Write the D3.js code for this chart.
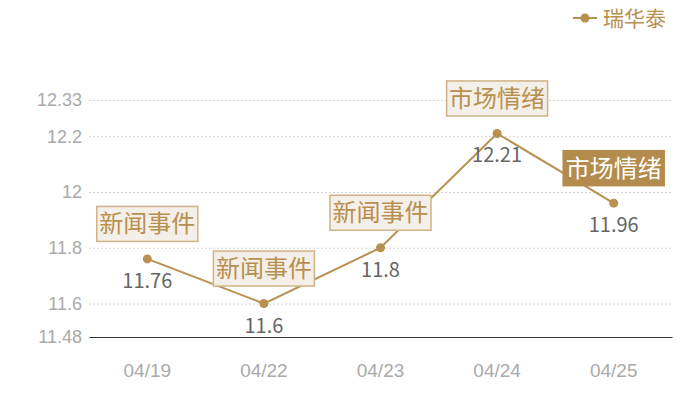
<!DOCTYPE html>
<html><head><meta charset="utf-8">
<script src="https://cdn.jsdelivr.net/npm/d3@7"></script>
<style>body{margin:0;background:#fff}svg{display:block;font-family:"Noto Sans CJK SC","Noto Sans",sans-serif}</style>
</head><body><div id="c"></div>
<script>
const categories = ["04/19","04/22","04/23","04/24","04/25"];
const values = [11.76, 11.6, 11.8, 12.21, 11.96];
const annotations = ["新闻事件","新闻事件","新闻事件","市场情绪","市场情绪"];
const highlighted = [false,false,false,false,true];
const yTicks = [11.48, 11.6, 11.8, 12, 12.2, 12.33];
const seriesName = "瑞华泰";

const W=700,H=400, m={l:89,r:28,t:100,b:63};
const gold="#b8904f";
const svg=d3.select("#c").append("svg").attr("width",W).attr("height",H);
const x=d3.scaleBand().domain(categories).range([m.l,W-m.r]);
const y=d3.scaleLinear().domain([11.48,12.33]).range([H-m.b,m.t]);

// grid
const ya=svg.append("g").attr("transform",`translate(${m.l},0)`)
  .call(d3.axisLeft(y).tickValues(yTicks).tickSize(-(W-m.l-m.r)).tickFormat(d=>String(d)));
ya.select(".domain").remove();
ya.selectAll(".tick line").attr("stroke","#d6d6d6").attr("stroke-dasharray","2,2");
ya.selectAll(".tick text").attr("x",-7).attr("fill","#aaaaaa").attr("font-size",18);
ya.selectAll(".tick").filter(d=>d===11.48).select("line").remove();

// x axis
const xa=svg.append("g").attr("transform",`translate(0,${H-m.b})`)
  .call(d3.axisBottom(x).tickSize(0).tickPadding(27));
xa.select(".domain").attr("stroke","#333").attr("stroke-width",1);
xa.selectAll(".tick text").attr("fill","#aaaaaa").attr("font-size",19);

const cx=d=>x(d)+x.bandwidth()/2;
const line=d3.line().x((d,i)=>cx(categories[i])).y(d=>y(d));
svg.append("path").datum(values).attr("d",line).attr("fill","none").attr("stroke",gold).attr("stroke-width",2);
svg.selectAll("circle.p").data(values).join("circle").attr("class","p")
  .attr("cx",(d,i)=>cx(categories[i])).attr("cy",d=>y(d)).attr("r",4.5).attr("fill",gold);
svg.selectAll("text.v").data(values).join("text").attr("class","v")
  .attr("x",(d,i)=>cx(categories[i])).attr("y",d=>y(d)+29).attr("text-anchor","middle")
  .attr("fill","#666").attr("font-size",20).text(d=>d);

// annotations
const bw=101,bh=35;
const ag=svg.selectAll("g.a").data(values).join("g").attr("class","a")
  .attr("transform",(d,i)=>`translate(${cx(categories[i])},${y(d)-17.5})`);
ag.append("rect").attr("x",-bw/2).attr("y",-bh).attr("width",bw).attr("height",bh)
  .attr("fill",(d,i)=>highlighted[i]?"#b38b4d":"#f4efe8")
  .attr("stroke",(d,i)=>highlighted[i]?"#b38b4d":"#cfb285").attr("stroke-width",1.5);
ag.append("text").attr("y",-bh/2+8.5).attr("text-anchor","middle").attr("font-size",24)
  .attr("fill",(d,i)=>highlighted[i]?"#fff":gold).text((d,i)=>annotations[i]);

// legend
const lg=svg.append("g").attr("transform","translate(573,18)");
lg.append("line").attr("x1",0).attr("x2",24).attr("stroke",gold).attr("stroke-width",2);
lg.append("circle").attr("cx",12).attr("r",4.5).attr("fill",gold);
lg.append("text").attr("x",30).attr("y",7.5).attr("font-size",21).attr("fill",gold).text(seriesName);
</script></body></html>
